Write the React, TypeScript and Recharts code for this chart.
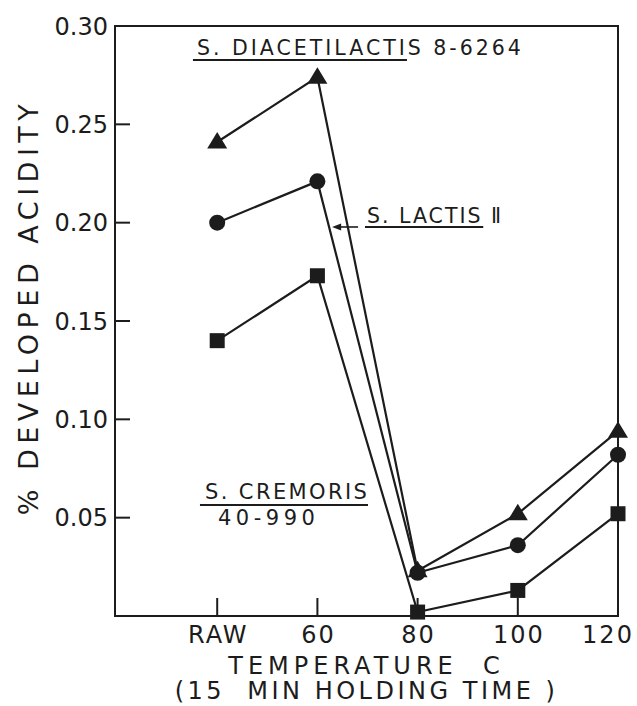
import React from 'react';
import { LineChart, Line, XAxis, YAxis, ReferenceLine, ReferenceArea } from 'recharts';

const categories = ['RAW', '60', '80', '100', '120'];
const diacetilactis = [0.241, 0.274, 0.023, 0.052, 0.094];
const lactis = [0.2, 0.221, 0.022, 0.036, 0.082];
const cremoris = [0.14, 0.173, 0.002, 0.013, 0.052];
const yTicks = [0.05, 0.1, 0.15, 0.2, 0.25, 0.3];
const xTicks = [0, 1, 2, 3, 4];

const data = categories.map((c, i) => ({
  x: i,
  name: c,
  diacetilactis: diacetilactis[i],
  lactis: lactis[i],
  cremoris: cremoris[i],
}));

const INK = '#1c1c1c';
const FONT = '"DejaVu Sans", sans-serif';

const TriangleDot = (p: any) => {
  const { cx, cy, index } = p;
  if (cx == null || cy == null) return <g key={`t${index}`} />;
  return (
    <path
      key={`t${index}`}
      d={`M${cx},${cy - 10} L${cx + 10},${cy + 6.5} L${cx - 10},${cy + 6.5} Z`}
      fill={INK}
    />
  );
};

const CircleDot = (p: any) => {
  const { cx, cy, index } = p;
  if (cx == null || cy == null) return <g key={`c${index}`} />;
  return <circle key={`c${index}`} cx={cx} cy={cy} r={8} fill={INK} />;
};

const SquareDot = (p: any) => {
  const { cx, cy, index } = p;
  if (cx == null || cy == null) return <g key={`s${index}`} />;
  return <rect key={`s${index}`} x={cx - 7.5} y={cy - 7.5} width={15} height={15} fill={INK} />;
};

const YTick = (p: any) => {
  const { x, y, payload } = p;
  return (
    <g>
      <line x1={x} y1={y} x2={x + 15} y2={y} stroke={INK} strokeWidth={2} />
      <text x={x - 7} y={y} dy="0.36em" textAnchor="end" fontSize={24} fontFamily={FONT} fill={INK}>
        {Number(payload.value).toFixed(2)}
      </text>
    </g>
  );
};

const XTick = (p: any) => {
  const { x, y, payload } = p;
  // last label sits a little left of its tick, as in the original
  const shift = payload.value === xTicks[xTicks.length - 1] ? -10 : 1;
  return (
    <g>
      <line x1={x} y1={y} x2={x} y2={y - 18} stroke={INK} strokeWidth={2} />
      <text x={x + shift} y={y + 27} textAnchor="middle" fontSize={24} letterSpacing={2} fontFamily={FONT} fill={INK}>
        {categories[payload.value]}
      </text>
    </g>
  );
};

const XTitle = (p: any) => {
  const vb = p.viewBox;
  const cx = vb.x + vb.width / 2;
  return (
    <g fontFamily={FONT} fill={INK} fontSize={24}>
      <text x={cx} y={vb.y + 58} textAnchor="middle" letterSpacing={5} style={{ whiteSpace: 'pre' }}>
        TEMPERATURE  C
      </text>
      <text x={cx} y={vb.y + 83} textAnchor="middle" letterSpacing={3.5} style={{ whiteSpace: 'pre' }}>
        (15  MIN HOLDING TIME )
      </text>
    </g>
  );
};

const YTitle = (p: any) => {
  const vb = p.viewBox;
  const cx = vb.x + 28;
  const cy = vb.y + 281;
  return (
    <text
      x={cx}
      y={cy}
      transform={`rotate(-90 ${cx} ${cy})`}
      textAnchor="middle"
      dominantBaseline="central"
      fontSize={27}
      letterSpacing={5.5}
      fontFamily={FONT}
      fill={INK}
    >
      % DEVELOPED ACIDITY
    </text>
  );
};

// underlined labels drawn on reference segments
const diacetilactisLabel = (p: any) => (
  <g>
    <line x1={p.x1} y1={p.y1} x2={p.x2} y2={p.y2} stroke={INK} strokeWidth={2} />
    <text x={p.x1 + 4} y={p.y1 - 5} fontSize={20.5} letterSpacing={3} fontFamily={FONT} fill={INK}>
      S. DIACETILACTIS 8-6264
    </text>
  </g>
);

const lactisLabel = (p: any) => (
  <g>
    <line x1={p.x1} y1={p.y1} x2={p.x2} y2={p.y2} stroke={INK} strokeWidth={2} />
    <text x={p.x1 + 2} y={p.y1 - 4} fontSize={20.5} letterSpacing={2} fontFamily={FONT} fill={INK}>
      S. LACTIS Ⅱ
    </text>
  </g>
);

const arrowShape = (p: any) => (
  <g>
    <line x1={p.x1} y1={p.y1} x2={p.x2 + 6} y2={p.y2} stroke={INK} strokeWidth={1.6} />
    <path d={`M${p.x2},${p.y2} L${p.x2 + 9},${p.y2 - 3.5} L${p.x2 + 9},${p.y2 + 3.5} Z`} fill={INK} />
  </g>
);

const cremorisLabel = (p: any) => (
  <g fontFamily={FONT} fill={INK} fontSize={21}>
    <line x1={p.x1} y1={p.y1} x2={p.x2} y2={p.y2} stroke={INK} strokeWidth={2} />
    <text x={p.x1 + 5} y={p.y1 - 6} letterSpacing={2.4}>
      S. CREMORIS
    </text>
    <text x={p.x1 + 18} y={p.y1 + 20} letterSpacing={4.5}>
      40-990
    </text>
  </g>
);

export default function App() {
  return (
    <div
      style={{
        position: 'fixed',
        left: 0,
        top: 0,
        width: 637,
        height: 706,
        overflow: 'hidden',
        background: '#fff',
      }}
    >
      <LineChart width={637} height={706} data={data} margin={{ top: 26, right: 19, bottom: 50, left: 0 }}>
        <XAxis
          dataKey="x"
          type="number"
          domain={[-1.02, 4]}
          ticks={xTicks}
          height={40}
          axisLine={false}
          tickLine={false}
          tickSize={0}
          tickMargin={0}
          tick={XTick}
          label={{ content: XTitle }}
        />
        <YAxis
          type="number"
          domain={[0, 0.3]}
          ticks={yTicks}
          width={115}
          axisLine={false}
          tickLine={false}
          tickSize={0}
          tickMargin={0}
          tick={YTick}
          label={{ content: YTitle }}
        />
        <ReferenceArea x1={-1.02} x2={4} y1={0} y2={0.3} fill="none" fillOpacity={0} stroke={INK} strokeWidth={2} />
        <ReferenceLine segment={[{ x: -0.242, y: 0.2827 }, { x: 1.894, y: 0.2827 }]} shape={diacetilactisLabel} />
        <ReferenceLine segment={[{ x: 1.475, y: 0.1978 }, { x: 2.655, y: 0.1978 }]} shape={lactisLabel} />
        <ReferenceLine segment={[{ x: 1.406, y: 0.1978 }, { x: 1.147, y: 0.1978 }]} shape={arrowShape} />
        <ReferenceLine segment={[{ x: -0.172, y: 0.0564 }, { x: 1.505, y: 0.0564 }]} shape={cremorisLabel} />
        <Line type="linear" dataKey="diacetilactis" stroke={INK} strokeWidth={2.2} dot={TriangleDot} activeDot={false} isAnimationActive={false} />
        <Line type="linear" dataKey="lactis" stroke={INK} strokeWidth={2.2} dot={CircleDot} activeDot={false} isAnimationActive={false} />
        <Line type="linear" dataKey="cremoris" stroke={INK} strokeWidth={2.2} dot={SquareDot} activeDot={false} isAnimationActive={false} />
      </LineChart>
    </div>
  );
}
